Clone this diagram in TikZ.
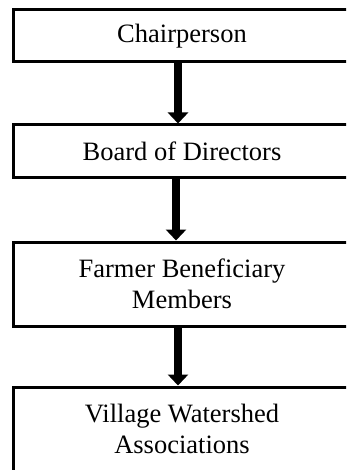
\documentclass[tikz,border=0pt]{standalone}
\usepackage{fontspec}
\setmainfont{Liberation Serif}
\usetikzlibrary{arrows.meta,positioning}

\begin{document}
\begin{tikzpicture}[
x=1pt,y=-1pt,
every node/.style={font=\fontsize{26.5}{31}\selectfont},
level/.style={draw=black,line width=3pt,fill=white,minimum width=338pt,
inner sep=0pt,align=center},
arr/.style={-{Triangle[length=11pt,width=20pt]},line width=7.5pt,draw=black}
]
\useasboundingbox (0,0) rectangle (346,470);
\clip (0,0) rectangle (346,470);

\node[level,minimum height=52pt] (chair) at (182,36) {Chairperson};
\node[level,minimum height=53pt,below=60pt of chair] (board) {Board of Directors};
\node[level,minimum height=84pt,below=61pt of board] (members) {Farmer Beneficiary\\ Members};
\node[level,minimum height=84pt,below=58pt of members] (vwa) {Village Watershed\\ Associations};

\draw[arr] ([xshift=-4pt]chair.south) -- ([xshift=-4pt]board.north);
\draw[arr] ([xshift=-6pt]board.south) -- ([xshift=-6pt]members.north);
\draw[arr] ([xshift=-4pt]members.south) -- ([xshift=-4pt]vwa.north);
\end{tikzpicture}
\end{document}
